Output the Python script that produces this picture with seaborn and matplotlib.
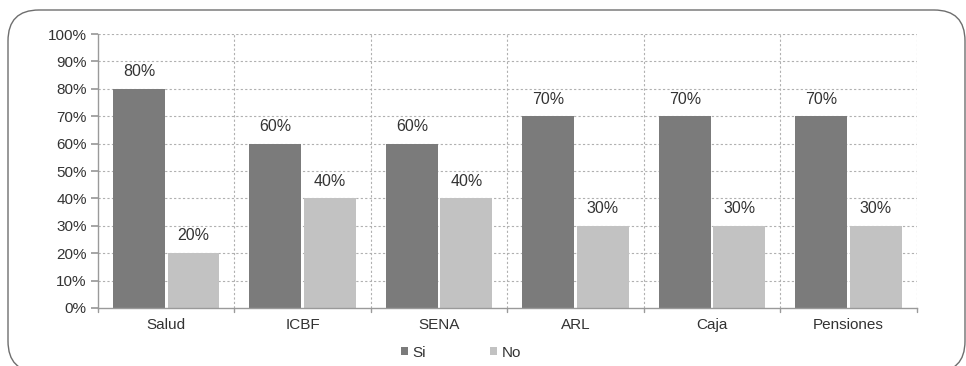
import matplotlib
matplotlib.use("Agg")
import matplotlib.pyplot as plt
import seaborn as sns
import pandas as pd
from matplotlib.patches import FancyBboxPatch
from matplotlib.ticker import FuncFormatter, MultipleLocator

categories = ["Salud", "ICBF", "SENA", "ARL", "Caja", "Pensiones"]
si_values = [80, 60, 60, 70, 70, 70]
no_values = [20, 40, 40, 30, 30, 30]
series_names = ["Si", "No"]
y_ticks = list(range(0, 101, 10))

df = pd.DataFrame({
    "categoria": categories * 2,
    "respuesta": [series_names[0]] * len(categories) + [series_names[1]] * len(categories),
    "valor": si_values + no_values,
})

sns.set_theme(style="white")
plt.rcParams["font.family"] = ["Liberation Sans", "DejaVu Sans"]

fig = plt.figure(figsize=(9.66, 3.66), dpi=100)
ax = fig.add_axes([0.1014, 0.1585, 0.8476, 0.7485])

# rounded frame around the whole chart (bottom edge runs past the canvas)
frame = FancyBboxPatch((8 / 966, -6 / 366), 957 / 966, 362 / 366,
                       boxstyle="round,pad=0,rounding_size=0.032",
                       transform=fig.transFigure, fill=False,
                       edgecolor="#6e6e6e", linewidth=1.0,
                       mutation_aspect=966 / 366, clip_on=False)
fig.patches.append(frame)

palette = {"Si": "#7b7b7b", "No": "#c2c2c2"}
sns.barplot(data=df, x="categoria", y="valor", hue="respuesta",
            palette=palette, width=0.8, gap=0.05, ax=ax,
            saturation=1, linewidth=0, legend=True)

ax.set_ylim(0, 100)
ax.set_xlim(-0.5, len(categories) - 0.5)
ax.yaxis.set_major_locator(MultipleLocator(10))
ax.yaxis.set_major_formatter(FuncFormatter(lambda v, p: f"{int(v)}%"))
ax.set_xlabel("")
ax.set_ylabel("")

# dotted grid: horizontal at each 10 %, vertical at category boundaries
for t in y_ticks[1:]:
    ax.axhline(t, color="#b0b0b0", linestyle=(0, (2, 2)), linewidth=0.8, zorder=0)
for b in range(1, len(categories) + 1):
    ax.axvline(b - 0.5, color="#b0b0b0", linestyle=(0, (2, 2)), linewidth=0.8, zorder=0)

for side in ["top", "right"]:
    ax.spines[side].set_visible(False)
for side in ["left", "bottom"]:
    ax.spines[side].set_color("#9a9a9a")
    ax.spines[side].set_linewidth(1.0)

ax.tick_params(axis="y", length=5, color="#9a9a9a", labelsize=11,
               labelcolor="#333333", pad=3, left=True)
ax.tick_params(axis="x", length=0, labelsize=11, labelcolor="#333333", pad=7)
for b in range(len(categories) + 1):
    ax.plot([b - 0.5, b - 0.5], [0, -1.5], color="#9a9a9a", lw=1.0,
            clip_on=False, zorder=3)

# value labels above each bar
for container in ax.containers:
    ax.bar_label(container, labels=[f"{int(v)}%" for v in container.datavalues],
                 padding=7, fontsize=11.5, color="#333333")

handles, labels = ax.get_legend_handles_labels()
ax.legend(handles, labels, loc="upper center", bbox_to_anchor=(0.443, -0.087),
          ncol=2, frameon=False, fontsize=11, handlelength=0.45,
          handleheight=0.45, handletextpad=0.3, columnspacing=4.2,
          labelcolor="#333333")

fig.savefig("out.png", dpi=100)
